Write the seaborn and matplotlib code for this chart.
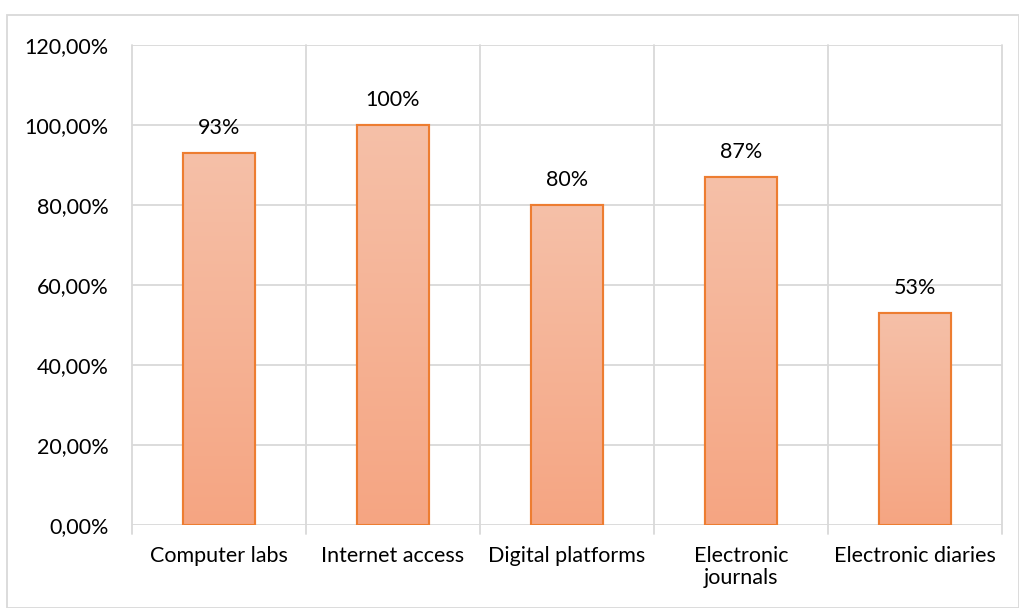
import numpy as np
import pandas as pd
import matplotlib
matplotlib.use("Agg")
import matplotlib.pyplot as plt
import seaborn as sns
from matplotlib.colors import LinearSegmentedColormap
from matplotlib.patches import Rectangle

categories = ["Computer labs", "Internet access", "Digital platforms",
              "Electronic\njournals", "Electronic diaries"]
values = [93, 100, 80, 87, 53]
bar_labels = ["93%", "100%", "80%", "87%", "53%"]
y_ticks = [0, 20, 40, 60, 80, 100, 120]
y_tick_labels = ["0,00%", "20,00%", "40,00%", "60,00%", "80,00%", "100,00%", "120,00%"]

df = pd.DataFrame({"category": categories, "value": values})

sns.set_style("white")
plt.rcParams["font.family"] = ["Lato", "DejaVu Sans"]

fig = plt.figure(figsize=(10.19, 6.08), dpi=100)
ax = fig.add_axes([132 / 1019, 1 - 525 / 608, 870 / 1019, 480 / 608])

sns.barplot(data=df, x="category", y="value", ax=ax, width=0.41,
            color="#F5B090", edgecolor="#ED7D31", linewidth=1.5, zorder=3)

# vertical gradient fill inside each bar
grad = LinearSegmentedColormap.from_list("bar", ["#F5A582", "#F6C0A8"])
gimg = np.linspace(0, 1, 256).reshape(-1, 1)
for patch in list(ax.patches):
    x0, y0 = patch.get_x(), patch.get_y()
    w, h = patch.get_width(), patch.get_height()
    im = ax.imshow(gimg, cmap=grad, origin="lower", aspect="auto",
                   extent=[x0, x0 + w, y0, y0 + h], zorder=3.5,
                   interpolation="bicubic")
    im.set_clip_path(patch)
    edge = Rectangle((x0, y0), w, h, fill=False, edgecolor="#ED7D31",
                     linewidth=1.5, zorder=4)
    ax.add_patch(edge)

ax.set_xlim(-0.5, len(categories) - 0.5)
ax.set_ylim(0, 120)

fs = 15.5
for i, (v, lab) in enumerate(zip(values, bar_labels)):
    ax.annotate(lab, (i, v), xytext=(0, 11), textcoords="offset points",
                ha="center", va="bottom", fontsize=fs, color="#000000")

ax.set_yticks(y_ticks)
ax.set_yticklabels(y_tick_labels, fontsize=fs, color="#000000")
ax.set_xticks(range(len(categories)))
ax.set_xticklabels(categories, fontsize=fs, color="#000000", linespacing=1.15)
ax.tick_params(axis="x", length=0, pad=15)
ax.tick_params(axis="y", length=0, pad=17)
ax.set_xlabel("")
ax.set_ylabel("")

# gridlines: horizontal at ticks, vertical at category boundaries
for y in y_ticks:
    ax.axhline(y, color="#D9D9D9", linewidth=1.3, zorder=1)
for b in np.arange(-0.5, len(categories), 1.0):
    ax.plot([b, b], [-2.2, 120], color="#D9D9D9", linewidth=1.3, zorder=1,
            clip_on=False)

for s in ax.spines.values():
    s.set_visible(False)

# chart-area frame
fig.patches.append(Rectangle((7 / 1019, 0), 1 - 7 / 1019 - 0.5 / 1019, 1 - 15 / 608,
                             transform=fig.transFigure, fill=False,
                             edgecolor="#D9D9D9", linewidth=1.3))

fig.savefig("out.png", dpi=100, facecolor="white")
